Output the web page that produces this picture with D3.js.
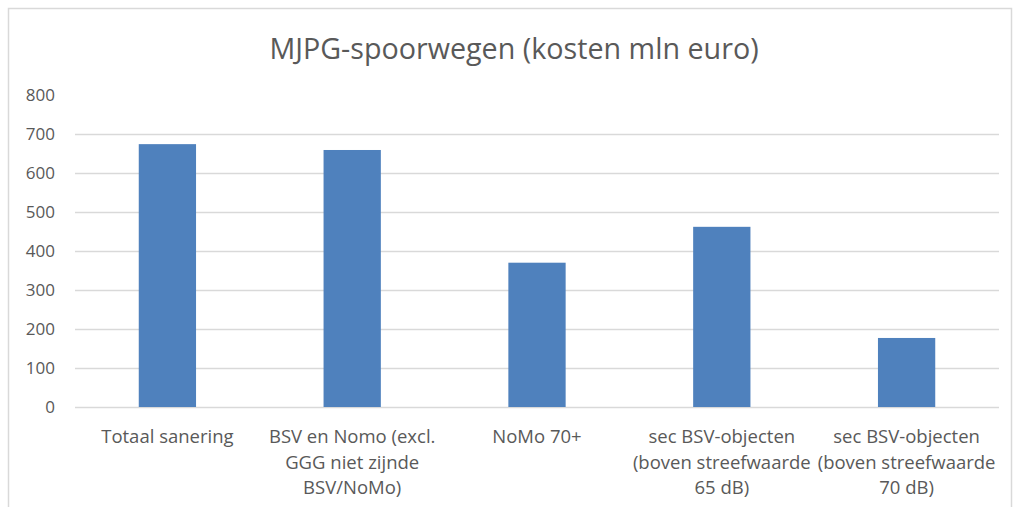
<!DOCTYPE html>
<html>
<head>
<meta charset="utf-8">
<script src="https://cdn.jsdelivr.net/npm/d3@7"></script>
<style>
  body { margin: 0; background: #fff; }
  text { font-family: "Open Sans", "DejaVu Sans", sans-serif; }
</style>
</head>
<body>
<svg id="chart" width="1017" height="507"></svg>
<script>
// chart data
const categories = [
    ["Totaal sanering"],
    ["BSV en Nomo (excl.", "GGG niet zijnde", "BSV/NoMo)"],
    ["NoMo 70+"],
    ["sec BSV-objecten", "(boven streefwaarde", "65 dB)"],
    ["sec BSV-objecten", "(boven streefwaarde", "70 dB)"]
];
const costs = [674, 659, 370, 462, 177];
const yTicks = [0, 100, 200, 300, 400, 500, 600, 700, 800];

const width = 1017;
const height = 507;
const plot = {left: 75, right: 999, top: 95, bottom: 407};

const svg = d3.select("#chart");

// outer chart border
svg.append("rect")
    .attr("x", 8.5)
    .attr("y", 8.5)
    .attr("width", 1003)
    .attr("height", 520)
    .attr("fill", "none")
    .attr("stroke", "#d9d9d9")
    .attr("stroke-width", 1.5);

x = d3.scaleBand()
    .domain(d3.range(categories.length))
    .range([plot.left, plot.right])
    .paddingInner(0.69)
    .paddingOuter(0.345);

y = d3.scaleLinear()
    .domain([0, 800])
    .range([plot.bottom, plot.top]);

// gridlines + y labels
const yAxis = svg.append("g")
    .attr("transform", `translate(${plot.left},0)`)
    .call(d3.axisLeft(y).tickValues(yTicks).tickSize(-(plot.right - plot.left)).tickPadding(20));
yAxis.select(".domain").remove();
yAxis.selectAll(".tick line")
    .attr("stroke", "#d9d9d9")
    .attr("stroke-width", 1.3)
    .attr("display", d => d == 800 ? "none" : null);
yAxis.selectAll(".tick text")
    .attr("fill", "#595959")
    .attr("font-size", 17);

svg.append("g")
    .selectAll("rect")
    .data(costs)
    .join("rect")
    .attr("x", (d, i) => x(i))
    .attr("y", d => y(d))
    .attr("width", x.bandwidth())
    .attr("height", d => y(0) - y(d))
    .attr("fill", "#4f81bd");

// category labels
const labels = svg.append("g")
    .selectAll("text")
    .data(categories)
    .join("text")
    .attr("text-anchor", "middle")
    .attr("fill", "#595959")
    .attr("font-size", 18.5)
    .attr("x", (d, i) => x(i) + x.bandwidth() / 2)
    .attr("y", 443);
labels.selectAll("tspan")
    .data(d => d)
    .join("tspan")
    .attr("x", function() { return d3.select(this.parentNode).attr("x"); })
    .attr("dy", (d, i) => i == 0 ? 0 : 25.5)
    .text(d => d);

svg.append("text")
    .attr("x", 514)
    .attr("y", 59)
    .attr("text-anchor", "middle")
    .attr("fill", "#595959")
    .attr("font-size", 28.7)
    .text("MJPG-spoorwegen (kosten mln euro)");
</script>
</body>
</html>
